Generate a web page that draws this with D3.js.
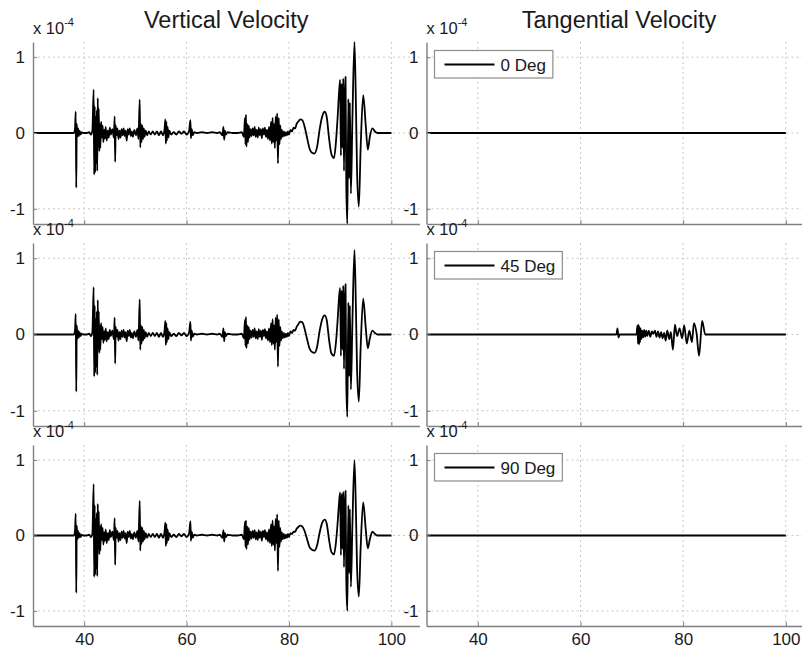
<!DOCTYPE html>
<html><head><meta charset="utf-8">
<script src="https://cdn.jsdelivr.net/npm/d3@7"></script>
<style>body{margin:0;background:#fff;} svg{display:block;font-family:"Liberation Sans",Arial,Helvetica,sans-serif;}</style>
</head><body><svg id="c" width="802" height="651"></svg>
<script>
// ---------- data ----------
const xTicks = [40, 60, 80, 100];
const yTicks = [-1, 0, 1];
const colTitles = ["Vertical Velocity", "Tangential Velocity"];
const legendLabels = ["0 Deg", "45 Deg", "90 Deg"];
const exponentLabel = "-4";

// shared time axis of the vertical velocity traces (s)
const time = [30, 38.0,
  38.2, 38.35, 38.45, 38.55, 38.65, 38.8, 38.95, 39.1, 39.3, 39.5, 39.8, 40.5, 41.0, 41.3, 41.6,
  41.85, 41.95, 42.05, 42.15, 42.25, 42.35, 42.45, 42.55, 42.65, 42.75, 42.85, 42.95, 43.05, 43.15, 43.3, 43.45, 43.6, 43.75, 43.9,
  44.05, 44.2, 44.4, 44.6, 44.8, 45.0, 45.2, 45.5, 45.8, 45.95, 46.05, 46.15, 46.3, 46.5, 46.7, 46.9, 47.1, 47.3, 47.5, 47.7, 47.9, 48.1, 48.3, 48.5, 48.7, 48.9, 49.1, 49.3, 49.5, 49.8, 50.1, 50.4, 50.6,
  50.85, 50.95, 51.1, 51.2, 51.35, 51.5, 51.65, 51.8, 52.0, 52.3, 52.6, 53.0, 53.4, 53.8, 54.2, 54.6, 55.0, 55.4, 55.7,
  55.85, 55.95, 56.05, 56.15, 56.3, 56.45, 56.6, 57.0, 57.5, 58.0, 58.5, 59.0, 59.5, 60.0, 60.5, 60.75, 60.85, 61.0, 61.2, 61.5,
  62.0, 63.0, 64.0, 65.0, 66.0, 66.5, 67.0, 67.2, 67.35, 67.5, 67.7, 68.0, 69.0, 70.0, 70.8,
  71.2, 71.4, 71.5, 71.6, 71.7, 71.85, 72.0, 72.15, 72.3, 72.5, 72.7, 72.9, 73.1, 73.3, 73.5, 73.7, 73.9, 74.1, 74.3, 74.5, 74.7, 74.9, 75.1, 75.3, 75.5, 75.7, 75.9, 76.1, 76.3,
  76.5, 76.65, 76.8, 76.95, 77.1, 77.25, 77.4, 77.55, 77.7, 77.85, 78.0, 78.15, 78.3, 78.45, 78.6, 78.8, 79.0, 79.2, 79.4, 79.6, 79.8, 80.0, 80.3, 80.6, 80.9, 81.2, 81.5, 81.8,
  82.2, 82.6, 83.0, 83.5, 84.0, 84.5, 85.0, 85.5, 86.0, 86.5, 87.0, 87.4, 87.8, 88.3, 88.8, 89.2, 89.5, 89.8,
  90.0, 90.15, 90.3, 90.45, 90.6, 90.75, 90.9, 91.05, 91.2, 91.4, 91.6, 91.75, 91.9, 92.1, 92.4, 92.8, 93.1, 93.3, 93.65, 94.0, 94.5, 95.0, 95.4, 95.8, 96.3, 96.8, 97.3, 100];

// vertical velocity (x 1e-4), 0 deg
const vert0 = [0, 0,
  0.05, 0.28, -0.72, 0.12, -0.05, 0.06, -0.04, 0.03, -0.02, 0.01, 0, 0, 0.01, -0.02, 0.03,
  0.57, -0.55, 0.35, -0.52, 0.22, -0.40, 0.30, -0.50, 0.46, -0.18, 0.32, -0.24, 0.12, -0.20, 0.15, -0.06, 0.10, -0.12, 0.04,
  -0.07, 0.08, -0.10, 0.03, -0.06, 0.07, -0.02, 0.05, -0.06, 0.22, -0.38, 0.10, -0.03, 0.06, -0.08, 0.03, -0.06, 0.05, -0.03, 0.06, -0.04, 0.03, -0.10, 0.05, -0.02, 0.06, -0.04, 0.02, -0.05, 0.04, -0.03, 0.06, -0.08,
  0.44, -0.19, 0.12, -0.12, 0.10, -0.08, 0.06, -0.05, 0.03, -0.03, 0.02, -0.02, 0.02, -0.02, 0.02, -0.03, 0.02, -0.03, 0.05,
  0.18, -0.14, 0.15, -0.10, 0.08, -0.06, 0.03, -0.02, 0.01, -0.02, 0.02, -0.01, 0.02, -0.02, 0.03, 0.17, -0.07, 0.05, -0.03, 0.01,
  0, 0.01, 0, 0.01, 0, 0.01, -0.03, 0.08, -0.09, 0.03, -0.02, 0.01, 0, 0, 0.01,
  -0.05, 0.20, -0.15, 0.24, -0.18, 0.12, -0.12, 0.10, -0.06, 0.05, -0.04, 0.06, -0.03, 0.08, -0.05, 0.04, -0.06, 0.07, -0.03, 0.05, -0.07, 0.06, -0.02, 0.07, -0.05, 0.04, -0.08, 0.08, -0.10,
  0.15, -0.14, 0.20, -0.12, 0.12, -0.20, 0.22, -0.10, 0.26, -0.40, 0.20, -0.15, 0.10, -0.08, 0.04, -0.05, 0.02, -0.04, 0.01, -0.03, 0.02, -0.02, 0.04, 0.02, 0.07, 0.06, 0.12, 0.15,
  0.18, 0.17, 0.10, -0.05, -0.20, -0.26, -0.27, -0.18, 0.05, 0.22, 0.28, 0.20, -0.05, -0.28, -0.33, -0.10, 0.20, 0.55,
  0.70, -0.30, 0.65, -0.20, 0.72, -0.50, 0.50, 0.74, -0.70, -1.20, 0.45, -0.60, 0.40, -0.80, 0.20, 1.20, 0.30, -0.50, -0.97, -0.20, 0.50, 0.10, -0.22, -0.05, 0.06, 0.02, 0, 0];

// vertical velocity (x 1e-4), 45 deg
const vert45 = [0, 0,
  0.05, 0.27, -0.75, 0.12, -0.06, 0.05, -0.04, 0.03, -0.02, 0.01, 0, 0, 0.01, -0.02, 0.03,
  0.62, -0.55, 0.38, -0.50, 0.20, -0.42, 0.30, -0.53, 0.45, -0.18, 0.30, -0.24, 0.12, -0.20, 0.15, -0.06, 0.10, -0.11, 0.04,
  -0.07, 0.08, -0.09, 0.03, -0.06, 0.06, -0.02, 0.05, -0.06, 0.22, -0.38, 0.10, -0.03, 0.06, -0.08, 0.03, -0.06, 0.05, -0.03, 0.06, -0.04, 0.03, -0.09, 0.05, -0.02, 0.06, -0.04, 0.02, -0.05, 0.04, -0.03, 0.06, -0.08,
  0.46, -0.20, 0.12, -0.12, 0.10, -0.08, 0.06, -0.05, 0.03, -0.03, 0.02, -0.02, 0.02, -0.02, 0.02, -0.03, 0.02, -0.03, 0.05,
  0.18, -0.14, 0.15, -0.10, 0.08, -0.06, 0.03, -0.02, 0.01, -0.02, 0.02, -0.01, 0.02, -0.02, 0.03, 0.17, -0.08, 0.05, -0.03, 0.01,
  0, 0.01, 0, 0.01, 0, 0.01, -0.03, 0.08, -0.09, 0.03, -0.02, 0.01, 0, 0, 0.01,
  -0.05, 0.19, -0.15, 0.23, -0.18, 0.12, -0.12, 0.10, -0.06, 0.05, -0.04, 0.06, -0.03, 0.08, -0.05, 0.04, -0.06, 0.07, -0.03, 0.05, -0.07, 0.06, -0.02, 0.07, -0.05, 0.04, -0.08, 0.08, -0.10,
  0.15, -0.14, 0.20, -0.12, 0.12, -0.20, 0.22, -0.10, 0.26, -0.42, 0.20, -0.15, 0.10, -0.08, 0.04, -0.05, 0.02, -0.04, 0.01, -0.03, 0.02, -0.02, 0.04, 0.02, 0.06, 0.05, 0.10, 0.13,
  0.17, 0.16, 0.09, -0.05, -0.18, -0.23, -0.24, -0.16, 0.05, 0.20, 0.25, 0.18, -0.05, -0.25, -0.28, -0.09, 0.18, 0.50,
  0.61, -0.28, 0.58, -0.20, 0.64, -0.45, 0.45, 0.66, -0.65, -1.08, 0.42, -0.55, 0.38, -0.72, 0.18, 1.11, 0.28, -0.45, -0.88, -0.18, 0.47, 0.09, -0.18, -0.05, 0.05, 0.02, 0, 0];

// vertical velocity (x 1e-4), 90 deg
const vert90 = [0, 0,
  0.06, 0.29, -0.76, 0.13, -0.05, 0.06, -0.03, 0.03, -0.02, 0.01, 0, 0, 0.01, -0.02, 0.02,
  0.68, -0.55, 0.40, -0.52, 0.22, -0.44, 0.30, -0.54, 0.42, -0.18, 0.32, -0.25, 0.12, -0.20, 0.15, -0.06, 0.10, -0.12, 0.04,
  -0.07, 0.08, -0.10, 0.03, -0.06, 0.07, -0.02, 0.05, -0.06, 0.23, -0.39, 0.10, -0.03, 0.06, -0.08, 0.03, -0.06, 0.05, -0.03, 0.06, -0.04, 0.03, -0.10, 0.05, -0.02, 0.06, -0.04, 0.02, -0.05, 0.04, -0.03, 0.06, -0.08,
  0.46, -0.20, 0.12, -0.11, 0.10, -0.08, 0.06, -0.05, 0.03, -0.03, 0.02, -0.02, 0.02, -0.02, 0.02, -0.03, 0.02, -0.03, 0.05,
  0.17, -0.14, 0.15, -0.10, 0.08, -0.06, 0.03, -0.02, 0.01, -0.02, 0.02, -0.01, 0.02, -0.02, 0.03, 0.19, -0.07, 0.05, -0.03, 0.01,
  0, 0.01, 0, 0.01, 0, 0.01, -0.03, 0.07, -0.08, 0.03, -0.02, 0.01, 0, 0, 0.01,
  -0.05, 0.18, -0.15, 0.20, -0.18, 0.12, -0.12, 0.10, -0.06, 0.05, -0.04, 0.06, -0.03, 0.07, -0.05, 0.04, -0.06, 0.07, -0.03, 0.05, -0.07, 0.06, -0.02, 0.07, -0.05, 0.04, -0.08, 0.08, -0.10,
  0.15, -0.14, 0.20, -0.12, 0.12, -0.20, 0.22, -0.10, 0.28, -0.47, 0.20, -0.15, 0.10, -0.08, 0.04, -0.05, 0.02, -0.04, 0.01, -0.03, 0.02, -0.02, 0.03, 0.02, 0.05, 0.05, 0.09, 0.11,
  0.13, 0.12, 0.07, -0.04, -0.15, -0.19, -0.20, -0.13, 0.04, 0.17, 0.21, 0.15, -0.04, -0.22, -0.25, -0.08, 0.16, 0.45,
  0.57, -0.26, 0.55, -0.18, 0.58, -0.42, 0.42, 0.59, -0.60, -1.00, 0.40, -0.50, 0.35, -0.68, 0.16, 1.00, 0.26, -0.42, -0.81, -0.17, 0.44, 0.08, -0.17, -0.05, 0.05, 0.02, 0, 0];

// tangential velocity (x 1e-4)
const tanTime0 = [30, 100];
const tan0 = [0, 0];
const tanTime45 = [30, 67.0, 67.2, 67.4, 67.6, 70.9, 71.1, 71.2, 71.3, 71.4, 71.5, 71.6, 71.7, 71.85, 72.0, 72.2, 72.4, 72.6, 72.8, 73.0, 73.3, 73.6, 73.9, 74.2, 74.5, 74.8, 75.1, 75.4, 75.7, 76.0, 76.3, 76.6, 76.9, 77.3, 77.6, 78.0, 78.4, 78.8, 79.3, 79.8, 80.2, 80.7, 81.2, 81.7, 82.1, 82.6, 83.1, 83.7, 84.3, 100];
const tan45 = [0, 0, 0.08, -0.04, 0, 0, 0.12, -0.12, 0.13, -0.13, 0.10, -0.10, 0.08, -0.06, 0.05, -0.04, 0.06, -0.03, 0.05, -0.02, 0.05, -0.03, 0.04, 0.01, 0.05, -0.03, 0.04, -0.04, 0.03, -0.05, 0.02, -0.08, 0.05, -0.06, 0.03, -0.20, 0.13, -0.02, 0.08, -0.05, 0.12, -0.12, 0.05, -0.10, 0.15, 0.02, -0.28, 0.18, 0, 0];
const tanTime90 = [30, 100];
const tan90 = [0, 0];

// ---------- layout ----------
const svg = d3.select("#c");
const rows = [{top: 42, bottom: 224}, {top: 243, bottom: 426}, {top: 445, bottom: 626}];
const cols = [{left: 33, right: 419.5, dom: [30, 105.5]}, {left: 426.5, right: 811.5, dom: [30, 105]}];
const series = [
  [{t: time, v: vert0}, {t: tanTime0, v: tan0}],
  [{t: time, v: vert45}, {t: tanTime45, v: tan45}],
  [{t: time, v: vert90}, {t: tanTime90, v: tan90}]
];
const axisColor = "#808080", gridColor = "#c8c8c8", textColor = "#1a1a1a";

// titles
cols.forEach((c, ci) => {
  svg.append("text").attr("x", (c.left + c.right) / 2).attr("y", 28)
    .attr("text-anchor", "middle").attr("font-size", 23.5).attr("fill", textColor)
    .text(colTitles[ci]);
});

rows.forEach((r, ri) => {
  cols.forEach((c, ci) => {
    const x = d3.scaleLinear().domain(c.dom).range([c.left, c.right]);
    const y = d3.scaleLinear().domain([-1.2, 1.2]).range([r.bottom, r.top]);
    const g = svg.append("g");
    const cid = `clip${ri}${ci}`;
    svg.append("clipPath").attr("id", cid).append("rect")
      .attr("x", c.left).attr("y", r.top - 1).attr("width", c.right - c.left).attr("height", r.bottom - r.top + 2);

    // grid
    g.append("g").selectAll("line").data(xTicks).join("line")
      .attr("x1", d => x(d)).attr("x2", d => x(d)).attr("y1", r.top).attr("y2", r.bottom)
      .attr("stroke", gridColor).attr("stroke-width", 1).attr("stroke-dasharray", "2,3");
    g.append("g").selectAll("line").data(yTicks).join("line")
      .attr("x1", c.left).attr("x2", c.right).attr("y1", d => y(d)).attr("y2", d => y(d))
      .attr("stroke", gridColor).attr("stroke-width", 1).attr("stroke-dasharray", "2,3");

    // data line
    const s = series[ri][ci];
    const pts = s.t.map((t, i) => [t, s.v[i]]);
    g.append("path").datum(pts)
      .attr("clip-path", `url(#${cid})`)
      .attr("fill", "none").attr("stroke", "#000").attr("stroke-width", 1.8)
      .attr("stroke-linejoin", "round")
      .attr("d", d3.line().curve(d3.curveMonotoneX).x(d => x(d[0])).y(d => y(d[1])));

    // axes
    const xa = d3.axisBottom(x).tickValues(xTicks).tickSize(-4).tickSizeOuter(0).tickPadding(7)
      .tickFormat(ri === rows.length - 1 ? d3.format("d") : () => "");
    const xg = g.append("g").attr("transform", `translate(0,${r.bottom})`).call(xa);
    const ya = d3.axisLeft(y).tickValues(yTicks).tickSize(-4).tickSizeOuter(0).tickPadding(8)
      .tickFormat(d => String(d));
    const yg = g.append("g").attr("transform", `translate(${c.left},0)`).call(ya);
    [xg, yg].forEach(a => {
      a.select(".domain").attr("stroke", axisColor).attr("stroke-width", 1.4);
      a.selectAll(".tick line").attr("stroke", axisColor).attr("stroke-width", 1);
      a.selectAll(".tick text").attr("font-size", 17).attr("fill", textColor)
        .attr("font-family", '"Liberation Sans",Arial,sans-serif');
    });

    // exponent label
    const ex = svg.append("text").attr("x", c.left).attr("y", r.top - 8)
      .attr("font-size", 16.5).attr("fill", textColor);
    ex.append("tspan").text("x 10");
    ex.append("tspan").attr("dy", -8).attr("font-size", 11).text(exponentLabel);

    // legend on tangential panels
    if (ci === 1) {
      const lg = svg.append("g").attr("transform", `translate(${c.left + 8},${r.top + 8.5})`);
      const box = lg.append("rect").attr("height", 27.5).attr("fill", "#fff")
        .attr("stroke", "#8c8c8c").attr("stroke-width", 1.2);
      lg.append("line").attr("x1", 10).attr("x2", 60).attr("y1", 14).attr("y2", 14)
        .attr("stroke", "#000").attr("stroke-width", 1.8);
      const tx = lg.append("text").attr("x", 66).attr("y", 20).attr("font-size", 17)
        .attr("fill", textColor).text(legendLabels[ri]);
      const w = tx.node().getComputedTextLength();
      box.attr("width", 66 + w + 7);
    }
  });
});
</script>
</body></html>
